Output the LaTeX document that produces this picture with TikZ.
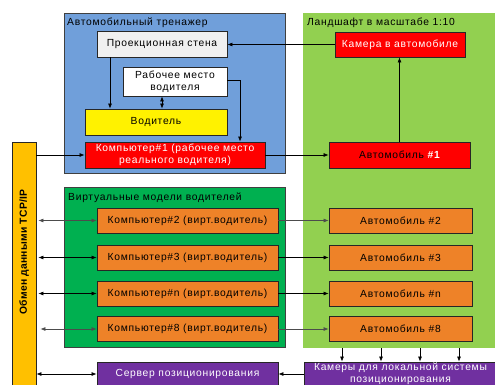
\documentclass[tikz,border=0pt]{standalone}
\usepackage{fontspec}
\setmainfont{Liberation Sans}[LetterSpace=7]
\newfontfamily\boldbar{Liberation Sans}[LetterSpace=3]
\usetikzlibrary{arrows.meta}
\definecolor{simblue}{RGB}{112,159,218}
\definecolor{landgreen}{RGB}{146,208,80}
\definecolor{virtgreen}{RGB}{0,176,80}
\definecolor{boxorange}{RGB}{238,130,40}
\definecolor{barorange}{RGB}{255,192,0}
\definecolor{boxpurple}{RGB}{112,48,160}
\definecolor{boxgray}{RGB}{240,240,240}
\definecolor{boxred}{RGB}{255,0,0}
\begin{document}
\begin{tikzpicture}[x=1pt,y=-1pt,
  font=\fontsize{10.3}{12}\selectfont,
  box/.style={draw=black!85, line width=0.8pt, inner sep=0pt, align=center},
  region/.style={draw=black!75, line width=0.8pt, inner sep=0pt},
  ttl/.style={anchor=base west, inner sep=0pt},
  arr/.style={-{Latex[length=5pt,width=4pt]}, line width=0.7pt},
  darr/.style={{Latex[length=5pt,width=4pt]}-{Latex[length=5pt,width=4pt]}, line width=0.7pt}]
\useasboundingbox (0,0) rectangle (495,385);
% regions
\node[region, fill=simblue, minimum width=221, minimum height=160] (sim) at (174.5,93) {};
\node[ttl] (simt) at (67,26) {Автомобильный тренажер};
\fill[landgreen] (303,13) rectangle (495,348);
\node[inner sep=0pt, minimum width=192, minimum height=335] (land) at (399,180.5) {};
\node[ttl] (landt) at (307,26) {Ландшафт в масштабе 1:10};
\node[region, fill=virtgreen, minimum width=221, minimum height=160] (virt) at (174.5,267) {};
\node[ttl] (virtt) at (68,200) {Виртуальные модели водителей};
% simulator
\node[box, fill=boxgray, minimum width=130, minimum height=26] (proj) at (162,44) {Проекционная стена};
\node[box, fill=white, minimum width=104, minimum height=29] (work) at (175,81.5) {Рабочее место\\водителя};
\node[box, fill=yellow, minimum width=142, minimum height=26] (drv) at (156,122) {Водитель};
\node[box, fill=boxred, text=white, minimum width=180, minimum height=26] (comp1) at (175,155) {Компьютер\#1 (рабочее место\\реального водителя)};
% bar
\node[box, fill=barorange, minimum width=24, minimum height=253] (bar) at (24,268.5) {};
\node[rotate=90, inner sep=0pt] (bart) at (24,252) {\boldbar\bfseries Обмен данными TCP/IP};
% landscape
\node[box, fill=boxred, text=white, minimum width=130, minimum height=25] (cam) at (400,44.5) {Камера в автомобиле};
\node[box, fill=boxred, minimum width=141, minimum height=26] (car1) at (399.5,155) {Автомобиль \textcolor{white}{\bfseries\#1}};
% virtual computers and cars
\node[box, fill=boxorange, minimum width=181, minimum height=25] (c2) at (187.5,220.5) {Компьютер\#2 (вирт.водитель)};
\node[box, fill=boxorange, minimum width=181, minimum height=25] (c3) at (187.5,257.5) {Компьютер\#3 (вирт.водитель)};
\node[box, fill=boxorange, minimum width=181, minimum height=25] (cn) at (187.5,293.5) {Компьютер\#n (вирт.водитель)};
\node[box, fill=boxorange, minimum width=181, minimum height=25] (c8) at (187.5,329) {Компьютер\#8 (вирт.водитель)};
\node[box, fill=boxorange, minimum width=143, minimum height=25] (a2) at (400.5,220.5) {Автомобиль \#2};
\node[box, fill=boxorange, minimum width=143, minimum height=25] (a3) at (400.5,257.5) {Автомобиль \#3};
\node[box, fill=boxorange, minimum width=143, minimum height=25] (an) at (400.5,293.5) {Автомобиль \#n};
\node[box, fill=boxorange, minimum width=143, minimum height=25] (a8) at (400.5,329) {Автомобиль \#8};
% positioning
\node[box, fill=boxpurple, text=white, minimum width=181, minimum height=24] (srv) at (187.5,374) {Сервер позиционирования};
\node[box, fill=boxpurple, text=white, minimum width=193, minimum height=24] (cams) at (400.5,374) {Камеры для локальной системы\\позиционирования};
% connectors
\draw[arr] (cam.west) -- (cam.west -| proj.east);
\draw[arr] (car1.north) -- (car1.north |- cam.south);
\draw[arr] (comp1.east) -- (car1.west);
\draw[arr] (bar.east |- comp1.west) -- (comp1.west);
\draw[arr] ([xshift=-52]proj.south) -- ([xshift=-52]proj.south |- drv.north);
\draw[darr] ([xshift=-13]work.south) -- ([xshift=-13]work.south |- drv.north);
\draw[arr] ([yshift=1.5]work.east) -| ([xshift=65]comp1.north);
\draw[darr, black!70] ([xshift=2]bar.east |- c2.west) -- (c2.west);
\draw[darr] ([xshift=2]bar.east |- c3.west) -- (c3.west);
\draw[darr] ([xshift=2]bar.east |- cn.west) -- (cn.west);
\draw[darr, black!70] ([xshift=4]bar.east |- c8.west) -- (c8.west);
\draw[arr, black!70] (c2.east) -- (a2.west);
\draw[arr] (c3.east) -- (a3.west);
\draw[arr] (cn.east) -- (an.west);
\draw[arr, black!70] (c8.east) -- (a8.west);
\draw[darr] (bar.east |- srv.west) -- (srv.west);
\draw[arr] (cams.west) -- (srv.east);
\foreach \x in {342,381,420,459} \draw[arr] (\x,0 |- land.south) -- (\x,0 |- cams.north);
\end{tikzpicture}
\end{document}
